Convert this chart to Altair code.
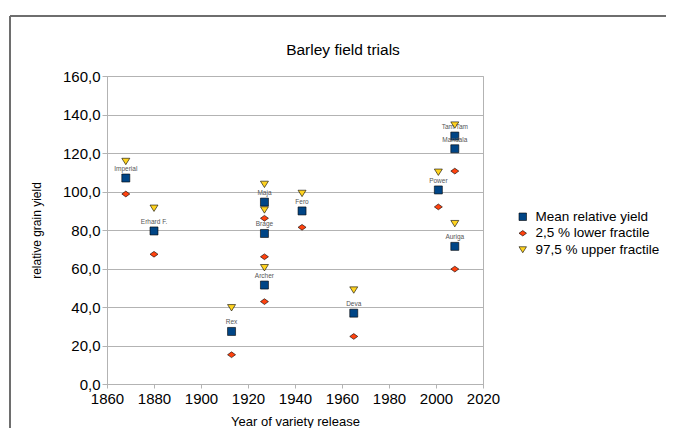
import altair as alt
import pandas as pd

variety = ["Imperial", "Erhard F.", "Rex", "Archer", "Brage", "Maja", "Fero",
           "Deva", "Power", "Tam Tam", "Mandala", "Auriga"]
year = [1868, 1880, 1913, 1927, 1927, 1927, 1943, 1965, 2001, 2008, 2008, 2008]
mean_yield = [107.0, 79.5, 27.3, 51.4, 78.2, 94.5, 89.9, 36.8, 100.8, 128.8, 122.2, 71.5]
lower_frac = [98.7, 67.4, 15.2, 42.8, 66.1, 86.1, 81.4, 24.7, 92.0, 110.6, None, 59.7]
upper_frac = [115.6, 91.3, 39.6, 60.4, 90.4, 103.7, 99.0, 48.8, 110.0, 134.5, None, 83.3]

series_names = ["Mean relative yield", "2,5 % lower fractile", "97,5 % upper fractile"]
series_colors = ["#004586", "#ff420e", "#ffd320"]
series_shapes = ["square", "M-1,0L0,-0.72L1,0L0,0.72Z", "M-1,-0.8L1,-0.8L0,0.8Z"]
x_ticks = [1860, 1880, 1900, 1920, 1940, 1960, 1980, 2000, 2020]
y_ticks = [0, 20, 40, 60, 80, 100, 120, 140, 160]

rows = []
for name, vals in zip(series_names, [mean_yield, lower_frac, upper_frac]):
    for v, y, val in zip(variety, year, vals):
        if val is not None:
            rows.append({"variety": v, "year": y, "value": val, "series": name})
long_df = pd.DataFrame(rows)
label_df = pd.DataFrame({"variety": variety, "year": year, "value": mean_yield})

FONT = "Liberation Sans"
GRID = "#b3b3b3"

x_enc = alt.X("year:Q", title="Year of variety release",
              scale=alt.Scale(domain=[1860, 2020], nice=False, zero=False),
              axis=alt.Axis(values=x_ticks, format="d", grid=False,
                            labelFontSize=15, labelColor="#000", tickSize=4, labelPadding=3,
                            labelOverlap=False, labelFlush=False,
                            domainColor=GRID, tickColor=GRID, titleFontSize=13,
                            titleFontWeight="normal", titleColor="#000",
                            titleY=37, titleBaseline="middle"))
y_enc = alt.Y("value:Q", title="relative grain yield",
              scale=alt.Scale(domain=[0, 160], nice=False),
              axis=alt.Axis(values=y_ticks, tickCount=9,
                            labelExpr="replace(format(datum.value, '.1f'), '.', ',')",
                            labelOverlap=False, labelFlush=False,
                            grid=True, gridColor=GRID, labelFontSize=15, labelColor="#000",
                            tickSize=5, labelPadding=2, domainColor=GRID, tickColor=GRID,
                            titleFontSize=12, titleFontWeight="normal", titleColor="#000",
                            titleX=-71, titleBaseline="middle"))

points = alt.Chart(long_df).mark_point(filled=True, opacity=1, stroke="black",
                                        strokeWidth=0.6, size=64).encode(
    x=x_enc,
    y=y_enc,
    fill=alt.Fill("series:N", title=None,
                  scale=alt.Scale(domain=series_names, range=series_colors),
                  legend=alt.Legend(orient="none", legendX=409, legendY=134,
                                    labelFontSize=13.5, labelColor="#000", labelFont=FONT,
                                    symbolSize=56, rowPadding=1.5, labelOffset=6,
                                    symbolStrokeColor="black", symbolStrokeWidth=0.6)),
    shape=alt.Shape("series:N", title=None,
                    scale=alt.Scale(domain=series_names, range=series_shapes)),
)

labels = alt.Chart(label_df).mark_text(dy=-9, fontSize=6.5, color="#555", font=FONT).encode(
    x=x_enc, y=y_enc, text="variety:N")

frame_left = alt.Chart(label_df).mark_rule(color="#6e6e6e", strokeWidth=1).encode(
    x=alt.value(-97), y=alt.value(-60), y2=alt.value(430))
frame_top = alt.Chart(label_df).mark_rule(color="#6e6e6e", strokeWidth=1).encode(
    x=alt.value(-97), x2=alt.value(700), y=alt.value(-60))

chart = alt.layer(points, labels, frame_left, frame_top).properties(
    width=376, height=308,
    autosize=alt.AutoSizeParams(type="none"),
    padding={"left": 99, "top": 68, "right": 183, "bottom": 44},
    title=alt.TitleParams("Barley field trials", fontSize=15.5, fontWeight="normal",
                          color="#000", font=FONT, anchor="middle", dx=48, offset=-43),
).configure(font=FONT, background="white").configure_view(stroke=GRID, strokeWidth=1)

chart.save("out.html", embed_options={"renderer": "svg", "actions": False})
